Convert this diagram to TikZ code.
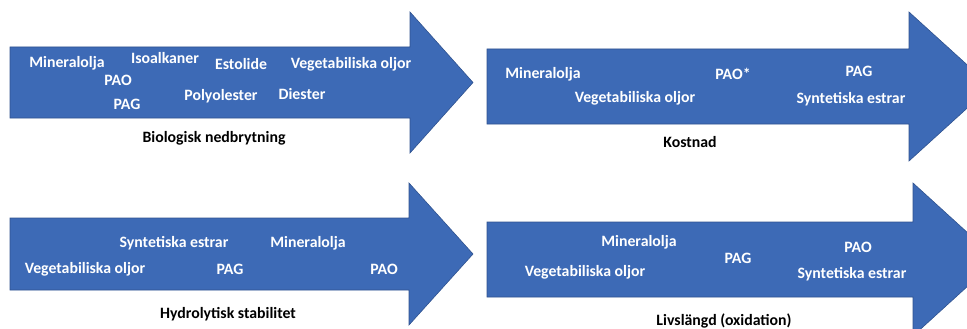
\documentclass[tikz,border=0pt]{standalone}
\usepackage{fontspec}
\setmainfont{Carlito}
\definecolor{pilblue}{RGB}{61,106,182}
\definecolor{pilline}{RGB}{47,82,143}
\tikzset{
    pil/.style={fill=pilblue, draw=pilline, line width=0.6pt},
    oil/.style={text=white, font=\fontsize{15.8}{17}\selectfont\bfseries, inner sep=0pt},
    axis label/.style={text=black, font=\fontsize{15.8}{17}\selectfont\bfseries, inner sep=0pt}
}
\begin{document}
\begin{tikzpicture}[x=1pt, y=-1pt]
    \useasboundingbox (0,0) rectangle (967,329);
    \clip (0,0) rectangle (967,329);

    % Fyra blockpilar (vänster kant, kropp topp/botten, huvud start, huvud topp/botten, spets)
    \foreach \xl/\yt/\yb/\xh/\ht/\hb/\xt in {10/47/118/410/12/153/473,
                                             487/49/124/909/12/161/991,
                                             10/218/290/409/183/325/473,
                                             487/222/297/913/183/336/997} {
        \pgfmathsetmacro{\ym}{(\ht+\hb)/2}
        \draw[pil] (\xl,\yt) -- (\xh,\yt) -- (\xh,\ht) -- (\xt,\ym) -- (\xh,\hb) -- (\xh,\yb) -- (\xl,\yb) -- cycle;
    }

    % Biologisk nedbrytning
    \node[oil] (bMin) at (67,63) {Mineralolja};
    \node[oil] (bIso) at (165,58) {Isoalkaner};
    \node[oil] (bEst) at (241,64) {Estolide};
    \node[oil] (bVeg) at (351,64) {Vegetabiliska oljor};
    \node[oil] (bPao) at (118,80) {PAO};
    \node[oil] (bPag) at (127,104) {PAG};
    \node[oil] (bPol) at (221,96) {Polyolester};
    \node[oil] (bDie) at (302,94) {Diester};
    \node[axis label] (bio) at (214,138) {Biologisk nedbrytning};

    % Kostnad
    \node[oil] (kMin) at (543,74) {Mineralolja};
    \node[oil] (kVeg) at (635,98) {Vegetabiliska oljor};
    \node[oil] (kPao) at (733,74) {PAO*};
    \node[oil] (kPag) at (859,71) {PAG};
    \node[oil] (kSyn) at (851,99) {Syntetiska estrar};
    \node[axis label] (kost) at (690,142) {Kostnad};

    % Hydrolytisk stabilitet
    \node[oil] (hSyn) at (174,243) {Syntetiska estrar};
    \node[oil] (hMin) at (308,243) {Mineralolja};
    \node[oil] (hVeg) at (85,269) {Vegetabiliska oljor};
    \node[oil] (hPag) at (230,269) {PAG};
    \node[oil] (hPao) at (384,269) {PAO};
    \node[axis label] (hydro) at (228,314) {Hydrolytisk stabilitet};

    % Livslängd
    \node[oil] (lMin) at (639,242) {Mineralolja};
    \node[oil] (lVeg) at (585,272) {Vegetabiliska oljor};
    \node[oil] (lPag) at (738,258) {PAG};
    \node[oil] (lPao) at (858,247) {PAO};
    \node[oil] (lSyn) at (852,274) {Syntetiska estrar};
    \node[axis label] (livs) at (724,321) {Livslängd (oxidation)};
\end{tikzpicture}
\end{document}
